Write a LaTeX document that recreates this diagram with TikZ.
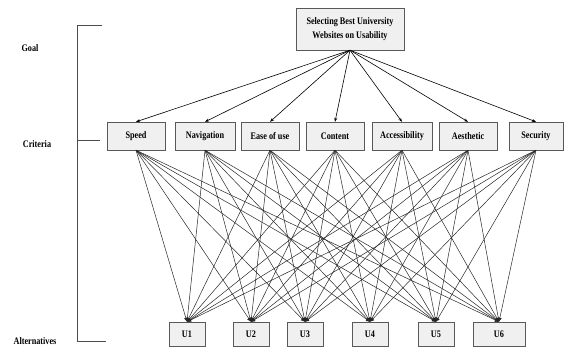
\documentclass[tikz,border=0pt]{standalone}
\usepackage{fontspec}
\setmainfont{Liberation Serif}
\newfontfamily\narrowserif[FakeStretch=0.82]{Liberation Serif}
\usetikzlibrary{arrows.meta}

\begin{document}
\begin{tikzpicture}[x=1pt, y=-1pt, >={Stealth[length=4pt,width=3pt]}]

	% Styles
	\tikzstyle{block} = [rectangle, draw=gray!70!black, fill=gray!12, minimum height=28pt, minimum width=58pt, inner sep=1pt, align=center, font=\narrowserif\fontsize{10}{14}\selectfont\bfseries]
	\tikzstyle{alt} = [block, minimum height=24pt, minimum width=36pt]
	\tikzstyle{level} = [font=\narrowserif\fontsize{10}{12}\selectfont\bfseries]
	\tikzstyle{arrow} = [->, semithick]
	\tikzstyle{link} = [-{Latex[length=4pt,width=4pt]}, line width=0.5pt, black!85]

	\useasboundingbox (0,0) rectangle (565,349);

	% Nodes
	\node[block, minimum width=108pt, minimum height=42pt] (goal) at (350,29) {Selecting Best University\\Websites on Usability};

	\node[block] (speed) at (136,136) {Speed};
	\node[block, minimum width=60pt] (navigation) at (205,136) {Navigation};
	\node[block] (ease) at (270,136) {Ease of use};
	\node[block] (content) at (335,136) {Content};
	\node[block, minimum width=60pt] (access) at (402,136) {Accessibility};
	\node[block] (aesthetic) at (468,136) {Aesthetic};
	\node[block, minimum width=54pt] (security) at (536,136) {Security};

	\node[alt] (u1) at (187,334) {U1};
	\node[alt] (u2) at (251,334) {U2};
	\node[alt] (u3) at (305,334) {U3};
	\node[alt] (u4) at (370,334) {U4};
	\node[alt] (u5) at (436,334) {U5};
	\node[alt, minimum width=52pt] (u6) at (499,334) {U6};

	% Levels
	\node[level] (lgoal) at (30,48) {Goal};
	\node[level] (lcriteria) at (37,144) {Criteria};
	\node[level] (lalt) at (35,341) {Alternatives};
	\draw[thick, gray!60!black] (102,25) -- (77,25) -- (77,341) -- (106,341);
	\draw[thick, gray!60!black] (77,140) -- (100,140);

	% Arrows (goal to criteria)
	\foreach \c in {speed, navigation, ease, content, access, aesthetic, security}
		\draw[arrow] (goal.south) -- (\c.north);

	% Arrows (criteria to alternatives)
	\foreach \c in {speed, navigation, ease, content, access, aesthetic, security}
		\foreach \u in {u1, u2, u3, u4, u5, u6}
			\draw[link] (\c.south) -- (\u.north);

\end{tikzpicture}
\end{document}
